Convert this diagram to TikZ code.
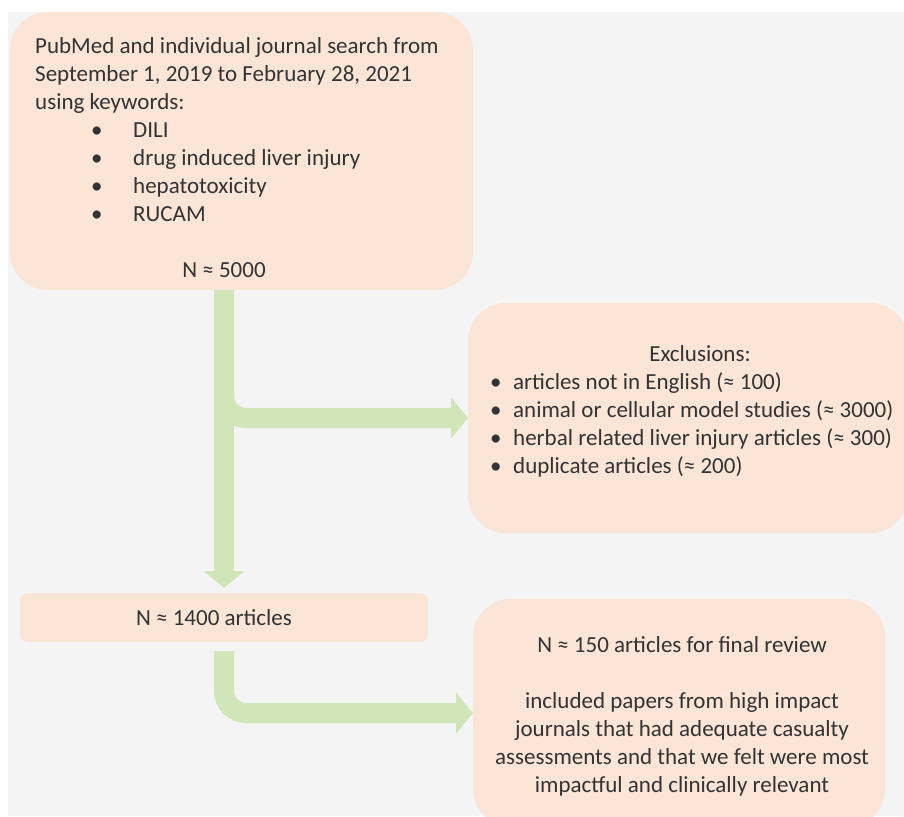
\documentclass[tikz,border=0pt]{standalone}
\usepackage{fontspec}
\setmainfont{Carlito}
\usetikzlibrary{arrows.meta,positioning}
\definecolor{peach}{HTML}{FBE5D6}
\definecolor{leaf}{HTML}{D0E5B8}
\definecolor{canvas}{HTML}{F4F4F4}
\definecolor{ink}{HTML}{333333}
\newcommand{\kwbul}{\makebox[98pt][l]{\hspace{56pt}•}}
\newcommand{\exbul}{\makebox[23pt][l]{•}}
\tikzset{
  panel/.style={fill=peach, draw=none, rounded corners=38pt, inner sep=0pt, outer sep=0pt},
  bar/.style={fill=peach, draw=none, rounded corners=8pt, inner sep=0pt, outer sep=0pt, text=ink, font=\fontsize{23}{28}\selectfont},
  txt/.style={text=ink, font=\fontsize{23}{28}\selectfont, inner sep=0pt},
  flow/.style={-{Triangle[length=17pt,width=40pt]}, line width=20pt, draw=leaf}
}
\begin{document}
\begin{tikzpicture}[x=1pt, y=-1pt]
  \useasboundingbox (0,0) rectangle (904,816);
  \clip (0,0) rectangle (904,816);
  \fill[canvas] (8,12) rectangle (904,816);

  % boxes
  \node[panel, minimum width=463pt, minimum height=278pt] (search) at (241.5,151) {};
  \node[panel, minimum width=440pt, minimum height=230pt] (excl) at (688,418) {};
  \node[bar, minimum width=408pt, minimum height=49pt] (count) at (224,617.5) {N ≈ 1400 articles\rule{20pt}{0pt}};
  \node[panel, minimum width=412pt, minimum height=228pt] (final) at (679,713) {};

  % texts
  \node[txt, align=left, anchor=north west] (searchtxt) at ([shift={(25pt,-25.5pt)}]search.north west)
    {PubMed and individual journal search from\\September 1, 2019 to February 28, 2021\\using keywords:\\\kwbul DILI\\\kwbul drug induced liver injury\\\kwbul hepatotoxicity\\\kwbul RUCAM};
  \node[txt, anchor=base] (total) at ([yshift=13pt]search.south -| count.north) {N ≈ 5000};
  \node[txt, anchor=base] (exclhead) at ([shift={(12pt,57pt)}]excl.center) {Exclusions:};
  \node[txt, align=left, anchor=north west] (excllist) at ([shift={(22pt,-69.5pt)}]excl.north west)
    {\exbul articles not in English (≈ 100)\\\exbul animal or cellular model studies (≈ 3000)\\\exbul herbal related liver injury articles (≈ 300)\\\exbul duplicate articles (≈ 200)};
  \node[txt, align=center, anchor=north] (finaltxt) at ([shift={(3pt,-37.5pt)}]final.north)
    {N ≈ 150 articles for final review\\[28pt]included papers from high impact\\journals that had adequate casualty\\assessments and that we felt were most\\impactful and clinically relevant};

  % arrows
  \draw[flow] (search.south -| count.north) -- ([yshift=5pt]count.north);
  \draw[flow, rounded corners=22pt] ([yshift=-65pt]search.south -| count.north) |- (excl.west);
  \draw[flow, rounded corners=22pt] ([yshift=-9pt]count.south) |- (final.west);
\end{tikzpicture}
\end{document}
